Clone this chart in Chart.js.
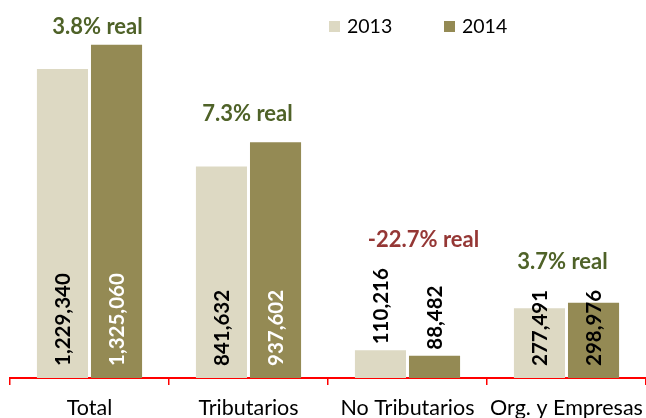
<!DOCTYPE html>
<html>
<head>
<meta charset="utf-8">
<script src="https://cdn.jsdelivr.net/npm/chart.js@4/dist/chart.umd.min.js"></script>
<style>
html,body{margin:0;padding:0;background:#fff;}
#wrap{width:646px;height:418px;}
</style>
</head>
<body>
<div id="wrap"><canvas id="c" width="646" height="418"></canvas></div>
<script>
const categories = ['Total', 'Tributarios', 'No Tributarios', 'Org. y Empresas'];
const seriesLabels = ['2013', '2014'];
const values2013 = [1229340, 841632, 110216, 277491];
const values2014 = [1325060, 937602, 88482, 298976];
const growthLabels = ['3.8% real', '7.3% real', '-22.7% real', '3.7% real'];

const COLORS = ['#DDD9C3', '#948A54'];
const GREEN = '#4F6228';
const RED = '#953735';
const FONT = 'Lato, "Open Sans", sans-serif';
const growthDx = [8, -1, 16, -4];

const annotPlugin = {
  id: 'annot',
  afterDatasetsDraw(chart) {
    const ctx = chart.ctx;
    const yMax = chart.scales.y.max;
    const groupTop = categories.map(() => Infinity);
    ctx.save();
    ctx.font = 'bold 20.5px ' + FONT;
    chart.data.datasets.forEach((ds, i) => {
      const meta = chart.getDatasetMeta(i);
      meta.data.forEach((el, j) => {
        const v = ds.data[j];
        const txt = v.toLocaleString('en-US');
        const w = ctx.measureText(txt).width;
        const above = v < yMax * 0.1;
        const start = above ? el.y - 6 : el.base - 12;
        const end = start - w;
        let color = '#000';
        if (i === 1 && !above && end >= el.y + 2) color = '#fff';
        ctx.save();
        ctx.translate(el.x, start);
        ctx.rotate(-Math.PI / 2);
        ctx.fillStyle = color;
        ctx.textAlign = 'left';
        ctx.textBaseline = 'middle';
        ctx.fillText(txt, 0, 1);
        ctx.restore();
        groupTop[j] = Math.min(groupTop[j], el.y, end);
      });
    });
    // growth labels
    ctx.font = 'bold 22px ' + FONT;
    ctx.textAlign = 'center';
    ctx.textBaseline = 'middle';
    const xs = chart.scales.x;
    growthLabels.forEach((t, j) => {
      const x = xs.getPixelForValue(j) + growthDx[j];
      const y = Math.max(27, groupTop[j] - 28);
      ctx.fillStyle = t.trim().startsWith('-') ? RED : GREEN;
      ctx.fillText(t, x, y);
    });
    // legend
    ctx.font = '19.5px ' + FONT;
    ctx.textAlign = 'left';
    const lx = [329, 444];
    seriesLabels.forEach((s, i) => {
      ctx.fillStyle = COLORS[i];
      ctx.fillRect(lx[i], 21, 11, 11);
      ctx.fillStyle = '#000';
      ctx.fillText(s, lx[i] + 18, 27);
    });
    ctx.restore();
  }
};

new Chart(document.getElementById('c'), {
  type: 'bar',
  data: {
    labels: categories,
    datasets: [
      { label: seriesLabels[0], data: values2013, backgroundColor: COLORS[0], categoryPercentage: 0.68, barPercentage: 0.945 },
      { label: seriesLabels[1], data: values2014, backgroundColor: COLORS[1], categoryPercentage: 0.68, barPercentage: 0.945 }
    ]
  },
  options: {
    responsive: false,
    animation: false,
    layout: { padding: { left: 10, right: 0, top: 26, bottom: 0 } },
    plugins: { legend: { display: false }, tooltip: { enabled: false } },
    scales: {
      x: {
        afterFit(s) { s.height = 40; s.paddingLeft = 0; s.paddingRight = 0; },
        grid: { offset: true, drawOnChartArea: false, tickLength: 7, color: '#ff0000', lineWidth: 1.5 },
        border: { color: '#ff0000', width: 2 },
        ticks: { color: '#000', font: { family: FONT, size: 21.5 }, padding: 10, maxRotation: 0, autoSkip: false }
      },
      y: { display: false, min: 0, max: 1400000 }
    }
  },
  plugins: [annotPlugin]
});
</script>
</body>
</html>
